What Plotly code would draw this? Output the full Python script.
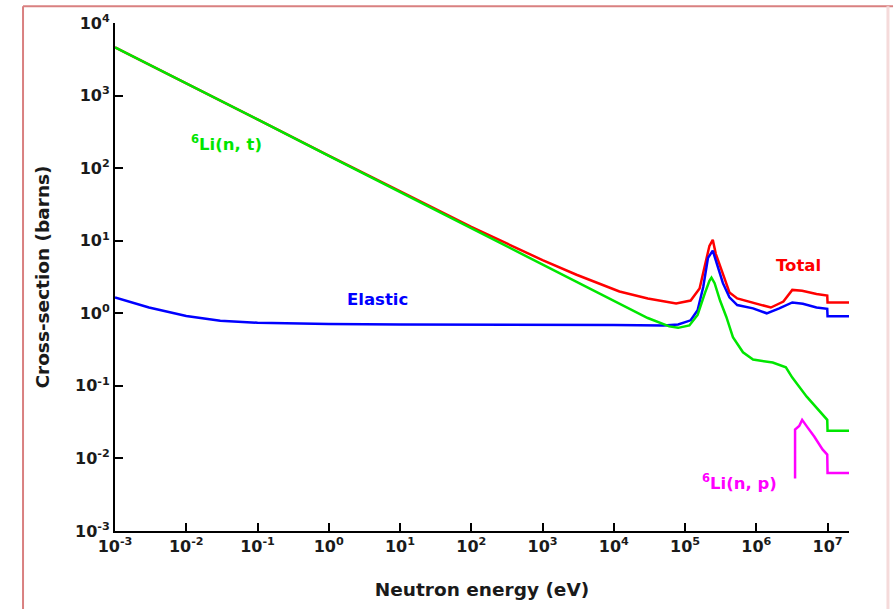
import plotly.graph_objects as go

# ---- data (energy in eV, cross-section in barns) ----
nt_energy = [1e-3, 1e-2, 1e-1, 1, 10, 100, 1e3, 1e4, 1.2e4, 3e4, 6e4, 8e4, 1.15e5, 1.5e5,
             1.9e5, 2.2e5, 2.35e5, 2.6e5, 3.1e5, 3.8e5, 4.7e5, 6.5e5, 9e5, 1.7e6, 2.6e6,
             3.2e6, 5.1e6, 7.8e6, 9.9e6, 1.0e7, 2.0e7]
nt_sigma = [4600, 1480, 470, 148, 47, 14.8, 4.7, 1.48, 1.37, 0.86, 0.66, 0.63, 0.68, 0.95,
            1.9, 2.8, 3.1, 2.6, 1.5, 0.89, 0.47, 0.29, 0.23, 0.21, 0.18,
            0.13, 0.071, 0.044, 0.034, 0.024, 0.024]

el_energy = [1e-3, 3e-3, 1e-2, 3e-2, 1e-1, 1, 10, 100, 1e3, 1e4, 5e4, 8e4, 1.2e5, 1.5e5,
             1.8e5, 2.1e5, 2.45e5, 2.8e5, 3.4e5, 4.2e5, 5.4e5, 9e5, 1.4e6, 2.1e6, 3.2e6,
             4.5e6, 7e6, 9.9e6, 1.0e7, 2.0e7]
el_sigma = [1.65, 1.2, 0.92, 0.79, 0.74, 0.71, 0.70, 0.70, 0.70, 0.69, 0.68, 0.7, 0.8, 1.1,
            2.3, 5.8, 7.3, 4.8, 2.6, 1.66, 1.3, 1.17, 1.0, 1.17, 1.41,
            1.35, 1.2, 1.15, 0.91, 0.91]

tot_energy = [1e-3, 1e-2, 1e-1, 1, 10, 100, 1e3, 3e3, 1.2e4, 3e4, 7.5e4, 1.2e5, 1.6e5,
              1.9e5, 2.2e5, 2.45e5, 2.7e5, 3.4e5, 4.2e5, 5.4e5, 9e5, 1.6e6, 2.4e6, 3.2e6,
              4.4e6, 7e6, 9.9e6, 1.0e7, 2.0e7]
tot_sigma = [4600, 1480, 470, 149, 48, 15.5, 5.4, 3.4, 2.0, 1.6, 1.37, 1.5, 2.2,
             4.5, 8.5, 10.3, 6.6, 3.5, 1.94, 1.6, 1.41, 1.2, 1.45, 2.1,
             2.05, 1.85, 1.76, 1.41, 1.41]

np_energy = [3.5e6, 3.5e6, 4.0e6, 4.4e6, 5.2e6, 6.5e6, 8.5e6, 9.9e6, 1.0e7, 2.0e7]
np_sigma = [0.0053, 0.025, 0.028, 0.034, 0.027, 0.020, 0.0133, 0.0113, 0.0063, 0.0063]

x_tick_vals = [1e-3, 1e-2, 1e-1, 1, 10, 100, 1e3, 1e4, 1e5, 1e6, 1e7, 2e7]
x_tick_text = ["<b>10<sup>-3</sup></b>", "<b>10<sup>-2</sup></b>", "<b>10<sup>-1</sup></b>",
               "<b>10<sup>0</sup></b>", "<b>10<sup>1</sup></b>", "<b>10<sup>2</sup></b>",
               "<b>10<sup>3</sup></b>", "<b>10<sup>4</sup></b>", "<b>10<sup>5</sup></b>",
               "<b>10<sup>6</sup></b>", "<b>10<sup>7</sup></b>", ""]
y_tick_vals = [1e-3, 1e-2, 1e-1, 1, 10, 100, 1e3, 1e4]
y_tick_text = ["<b>10<sup>-3</sup></b>", "<b>10<sup>-2</sup></b>", "<b>10<sup>-1</sup></b>",
               "<b>10<sup>0</sup></b>", "<b>10<sup>1</sup></b>", "<b>10<sup>2</sup></b>",
               "<b>10<sup>3</sup></b>", "<b>10<sup>4</sup></b>"]

FONT = "DejaVu Sans"
RED, BLUE, GREEN, MAG = "#ff0000", "#0000ff", "#00e600", "#ff00ff"
INK = "#1a1a1a"

fig = go.Figure()
fig.add_trace(go.Scatter(x=tot_energy, y=tot_sigma, mode="lines",
                         line=dict(color=RED, width=2.5), name="Total"))
fig.add_trace(go.Scatter(x=el_energy, y=el_sigma, mode="lines",
                         line=dict(color=BLUE, width=2.5), name="Elastic"))
fig.add_trace(go.Scatter(x=nt_energy, y=nt_sigma, mode="lines",
                         line=dict(color=GREEN, width=2.5), name="6Li(n,t)"))
fig.add_trace(go.Scatter(x=np_energy, y=np_sigma, mode="lines",
                         line=dict(color=MAG, width=2.5), name="6Li(n,p)"))

ann_font = dict(family=FONT, size=16.5)
fig.add_annotation(x=-1.44, y=2.35, xref="x", yref="y", showarrow=False,
                   text="<b><sup>6</sup>Li(n, t)</b>", font=dict(ann_font, color=GREEN))
fig.add_annotation(x=0.68, y=0.19, xref="x", yref="y", showarrow=False,
                   text="<b>Elastic</b>", font=dict(ann_font, color=BLUE))
fig.add_annotation(x=6.59, y=0.66, xref="x", yref="y", showarrow=False,
                   text="<b>Total</b>", font=dict(ann_font, color=RED))
fig.add_annotation(x=5.77, y=-2.33, xref="x", yref="y", showarrow=False,
                   text="<b><sup>6</sup>Li(n, p)</b>", font=dict(ann_font, color=MAG))

# outer frame of the picture
fig.add_shape(type="line", xref="paper", yref="paper", x0=-0.1253, x1=-0.1253, y0=1.033, y1=-0.3,
              line=dict(color="#d98080", width=2))
fig.add_shape(type="line", xref="paper", yref="paper", x0=-0.1253, x1=1.06, y0=1.033, y1=1.033,
              line=dict(color="#d98080", width=2))
fig.add_shape(type="line", xref="paper", yref="paper", x0=1.0531, x1=1.0531, y0=1.033, y1=-0.3,
              line=dict(color="#f5dada", width=3))

axis_common = dict(type="log", showgrid=False, zeroline=False, showline=True,
                   linecolor="black", linewidth=2, ticks="inside", ticklen=8,
                   tickwidth=2, tickcolor="black",
                   tickfont=dict(family=FONT, size=16, color=INK))

fig.update_xaxes(**axis_common, range=[-3, 7.301], tickmode="array",
                 tickvals=x_tick_vals, ticktext=x_tick_text,
                 title=dict(text="<b>Neutron energy (eV)</b>",
                            font=dict(family=FONT, size=18.5, color=INK), standoff=28))
fig.update_yaxes(**axis_common, range=[-3, 4], tickmode="array",
                 tickvals=y_tick_vals, ticktext=y_tick_text,
                 title=dict(text="<b>Cross-section (barns)</b>",
                            font=dict(family=FONT, size=18.5, color=INK), standoff=21))

fig.update_layout(width=894, height=609, showlegend=False,
                  plot_bgcolor="white", paper_bgcolor="white",
                  margin=dict(l=115, r=45, t=22, b=77))

fig.write_html("out.html")
